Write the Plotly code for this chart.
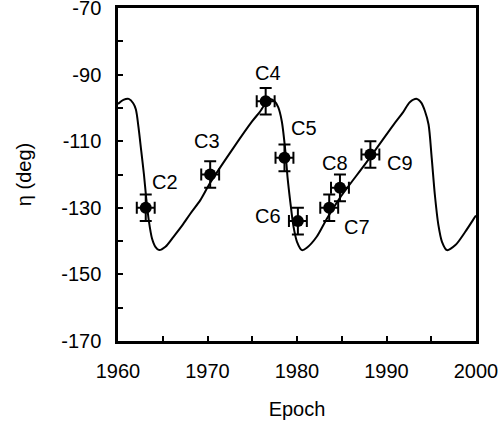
import plotly.graph_objects as go

# Observed components
comp_names = ["C2", "C3", "C4", "C5", "C6", "C7", "C8", "C9"]
comp_epoch = [1963.1, 1970.3, 1976.5, 1978.6, 1980.1, 1983.6, 1984.8, 1988.2]
comp_eta = [-130, -120, -98, -115, -134, -130, -124, -114]
comp_eta_err = [4, 4, 4, 4, 4, 4, 4, 4]
comp_epoch_err = [1, 1, 1, 1, 1, 1, 1, 1]

# Label positions
label_epoch = [1965.3, 1969.9, 1976.8, 1980.8, 1976.8, 1986.7, 1984.2, 1991.5]
label_eta = [-122.4, -109.9, -89.6, -106.1, -132.6, -135.8, -116.5, -116.5]

# Model curve
model_epoch = [1960.0, 1960.6, 1961.2, 1961.7, 1962.0, 1962.3, 1962.6, 1962.9,
               1963.15, 1963.45, 1963.8, 1964.2, 1964.6, 1965.3, 1966.2, 1967.2,
               1968.1, 1969.2, 1970.3, 1972.9, 1975.0, 1975.9, 1976.5, 1977.0, 1977.5,
               1977.9, 1978.3, 1978.7, 1978.95, 1979.25, 1979.6, 1980.0, 1980.55,
               1981.1, 1982.2, 1983.35, 1984.8, 1987.8, 1990.8, 1991.8, 1992.6,
               1993.4, 1993.9, 1994.3, 1994.7, 1995.05, 1995.4, 1995.8, 1996.2,
               1996.75, 1997.7, 1998.8, 1999.9, 2000.0]
model_eta = [-98.8, -97.6, -97.3, -98.6, -100.5, -106.0, -113.0, -120.0,
             -127.0, -134.0, -139.2, -141.8, -142.7, -141.7, -138.7, -135.2,
             -131.7, -127.7, -122.5, -112.0, -104.0, -101.0, -98.5, -97.3, -98.0,
             -99.8, -104.0, -113.0, -121.0, -128.2, -135.5, -140.2, -142.7,
             -142.0, -138.7, -133.2, -127.0, -116.2, -105.0, -101.5, -98.3,
             -97.3, -98.5, -101.0, -105.0, -115.0, -126.0, -135.2, -140.2,
             -142.7, -141.2, -137.2, -132.7, -132.3]

x_ticks = [1960, 1970, 1980, 1990, 2000]
y_ticks = [-170, -150, -130, -110, -90, -70]

FONT = "Liberation Sans, Arial, sans-serif"
FS = 20

fig = go.Figure()
fig.add_trace(go.Scatter(
    x=model_epoch, y=model_eta, mode="lines",
    line=dict(color="black", width=2, shape="spline", smoothing=0.8),
    showlegend=False, hoverinfo="skip"))
fig.add_trace(go.Scatter(
    x=comp_epoch, y=comp_eta, mode="markers",
    marker=dict(color="black", size=12),
    error_y=dict(type="data", array=comp_eta_err, color="black", thickness=2, width=6),
    error_x=dict(type="data", array=comp_epoch_err, color="black", thickness=2, width=6),
    showlegend=False))

for name, lx, ly in zip(comp_names, label_epoch, label_eta):
    fig.add_annotation(x=lx, y=ly, text=name, showarrow=False,
                       font=dict(size=FS, color="black", family=FONT),
                       xanchor="center", yanchor="middle")

axis_common = dict(
    showgrid=False, zeroline=False, showline=True, linecolor="black",
    linewidth=2.5, mirror=True, ticks="inside", ticklen=5, tickwidth=2,
    tickcolor="black", tickfont=dict(size=FS, color="black", family=FONT),
    minor=dict(ticks="inside", ticklen=5, tickwidth=2, tickcolor="black"),
    automargin=False, ticklabeloverflow="allow",
)

fig.update_xaxes(range=[1960, 2000], tickvals=x_ticks, ticktext=[str(v) for v in x_ticks],
                 minor_dtick=5, minor_tick0=1960,
                 title=dict(text="Epoch", font=dict(size=FS, color="black", family=FONT), standoff=22),
                 ticklabelstandoff=10, **axis_common)
fig.update_yaxes(range=[-170, -70], tickvals=y_ticks, ticktext=[str(v) for v in y_ticks],
                 minor_dtick=10, minor_tick0=-170,
                 title=dict(text="η (deg)", font=dict(size=FS, color="black", family=FONT), standoff=25),
                 ticklabelstandoff=10, **axis_common)

fig.update_layout(
    width=503, height=431,
    margin=dict(l=118, r=27, t=8, b=90, autoexpand=False),
    plot_bgcolor="white", paper_bgcolor="white",
    font=dict(family=FONT, color="black"),
)

fig.write_html("out.html", config={"displayModeBar": False},
               post_script="document.body.style.margin='0';")
